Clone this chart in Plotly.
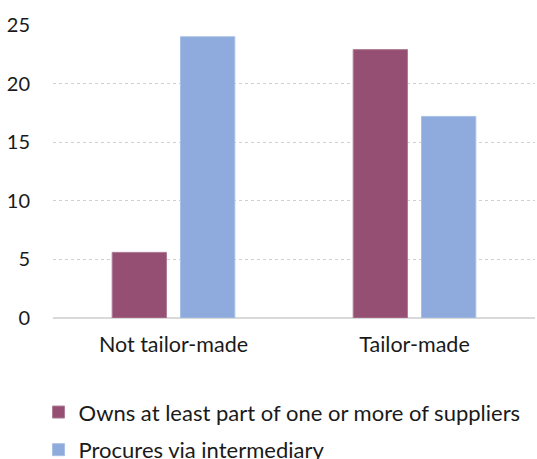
import plotly.graph_objects as go

categories = ["Not tailor-made", "Tailor-made"]
owns_suppliers = [5.6, 22.9]
via_intermediary = [24.0, 17.2]
series_names = ["Owns at least part of one or more of suppliers", "Procures via intermediary"]
y_ticks = [0, 5, 10, 15, 20, 25]

FONT = "Lato, 'Open Sans', sans-serif"
TEXT = "#1a1a1a"

fig = go.Figure()
fig.add_trace(go.Bar(
    x=categories, y=owns_suppliers, name=series_names[0], legendgroup="a",
    marker=dict(color="#954F72", line=dict(color="#b07d97", width=1)),
))
fig.add_trace(go.Bar(
    x=categories, y=via_intermediary, name=series_names[1], legendgroup="b",
    marker=dict(color="#8FAADC", line=dict(color="#a9c0e6", width=1)),
))

fig.update_layout(
    width=537, height=459,
    margin=dict(l=53, r=2, t=25, b=141, autoexpand=False),
    plot_bgcolor="white", paper_bgcolor="white",
    barmode="group", bargap=0.433, bargroupgap=0.205,
    font=dict(family=FONT, size=21.5, color=TEXT),
    showlegend=True,
    legend=dict(
        orientation="v",
        x=-0.03, y=-0.25, xanchor="left", yanchor="top",
        traceorder="grouped", tracegroupgap=6,
        font=dict(family=FONT, size=22, color=TEXT),
        itemwidth=30,
    ),
    hovermode=False,
)
fig.update_xaxes(
    showgrid=False, showline=False, ticks="", tickangle=0,
    tickfont=dict(size=21.5, color=TEXT), ticklabelstandoff=11,
)
fig.update_yaxes(
    range=[0, 25], tickvals=y_ticks, showline=False, ticks="",
    showgrid=True, gridcolor="#d0d0d0", griddash="dot", gridwidth=1,
    zeroline=True, zerolinecolor="#d9d9d9", zerolinewidth=2,
    tickfont=dict(size=20, color=TEXT), ticklabelstandoff=22,
)

fig.write_html("out.html")
